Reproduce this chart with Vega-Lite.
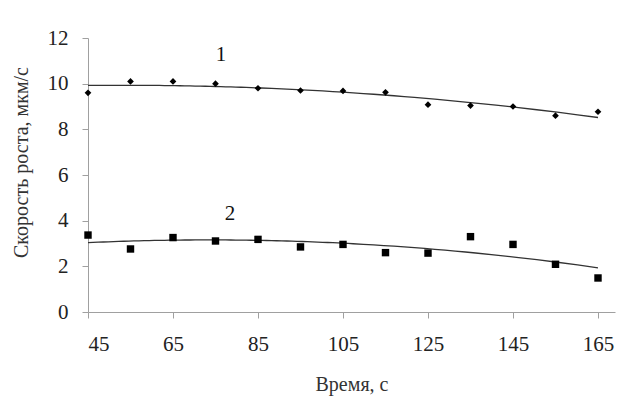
{
  "$schema": "https://vega.github.io/schema/vega-lite/v6.json",
  "autosize": "none",
  "width": 527,
  "height": 274,
  "padding": {"left": 88, "top": 38, "right": 12, "bottom": 94},
  "background": "white",
  "config": {
    "view": {"stroke": null},
    "font": "Liberation Serif"
  },
  "datasets": {
    "pts": [
      {"t": 45, "v": 9.6, "s": "1"},
      {"t": 55, "v": 10.1, "s": "1"},
      {"t": 65, "v": 10.1, "s": "1"},
      {"t": 75, "v": 10.0, "s": "1"},
      {"t": 85, "v": 9.8, "s": "1"},
      {"t": 95, "v": 9.7, "s": "1"},
      {"t": 105, "v": 9.68, "s": "1"},
      {"t": 115, "v": 9.62, "s": "1"},
      {"t": 125, "v": 9.08, "s": "1"},
      {"t": 135, "v": 9.04, "s": "1"},
      {"t": 145, "v": 9.0, "s": "1"},
      {"t": 155, "v": 8.6, "s": "1"},
      {"t": 165, "v": 8.77, "s": "1"},
      {"t": 45, "v": 3.37, "s": "2"},
      {"t": 55, "v": 2.76, "s": "2"},
      {"t": 65, "v": 3.26, "s": "2"},
      {"t": 75, "v": 3.11, "s": "2"},
      {"t": 85, "v": 3.18, "s": "2"},
      {"t": 95, "v": 2.85, "s": "2"},
      {"t": 105, "v": 2.96, "s": "2"},
      {"t": 115, "v": 2.6, "s": "2"},
      {"t": 125, "v": 2.58, "s": "2"},
      {"t": 135, "v": 3.3, "s": "2"},
      {"t": 145, "v": 2.96, "s": "2"},
      {"t": 155, "v": 2.09, "s": "2"},
      {"t": 165, "v": 1.49, "s": "2"}
    ],
    "labels": [
      {"t": 76.3, "v": 11.26, "label": "1"},
      {"t": 78.4, "v": 4.3, "label": "2"}
    ]
  },
  "encoding": {
    "x": {
      "field": "t", "type": "quantitative",
      "scale": {"domain": [45, 169], "nice": false, "zero": false},
      "axis": {
        "title": "Время, с",
        "values": [45, 65, 85, 105, 125, 145, 165],
        "grid": false,
        "domainColor": "#a0a0a0",
        "tickColor": "#a0a0a0",
        "tickSize": 6,
        "labelFont": "Liberation Serif",
        "labelFontSize": 21,
        "labelColor": "#222222",
        "labelPadding": 15,
        "titleFont": "Liberation Serif",
        "titleFontSize": 20,
        "titleFontWeight": "normal",
        "titleColor": "#333333",
        "titlePadding": 20
      }
    },
    "y": {
      "field": "v", "type": "quantitative",
      "scale": {"domain": [0, 12], "nice": false},
      "axis": {
        "title": "Скорость роста, мкм/с",
        "values": [0, 2, 4, 6, 8, 10, 12],
        "grid": false,
        "domainColor": "#a0a0a0",
        "tickColor": "#a0a0a0",
        "tickSize": 6,
        "labelFont": "Liberation Serif",
        "labelFontSize": 21,
        "labelColor": "#222222",
        "labelPadding": 14,
        "titleFont": "Liberation Serif",
        "titleFontSize": 20,
        "titleFontWeight": "normal",
        "titleColor": "#333333",
        "titlePadding": 16,
        "titleY": 124
      }
    }
  },
  "layer": [
    {
      "data": {"name": "pts"},
      "transform": [
        {"regression": "v", "on": "t", "groupby": ["s"], "method": "poly", "order": 2, "extent": [45, 165]}
      ],
      "mark": {"type": "line", "color": "#333333", "strokeWidth": 1.3},
      "encoding": {"detail": {"field": "s"}}
    },
    {
      "data": {"name": "pts"},
      "mark": {"type": "point", "filled": true, "color": "black", "opacity": 1},
      "encoding": {
        "shape": {"field": "s", "type": "nominal", "scale": {"domain": ["1", "2"], "range": ["diamond", "square"]}, "legend": null},
        "size": {"field": "s", "type": "nominal", "scale": {"domain": ["1", "2"], "range": [45, 55]}, "legend": null}
      }
    },
    {
      "data": {"name": "labels"},
      "mark": {"type": "text", "font": "Liberation Serif", "fontSize": 21, "color": "#111111"},
      "encoding": {"text": {"field": "label"}}
    }
  ]
}
